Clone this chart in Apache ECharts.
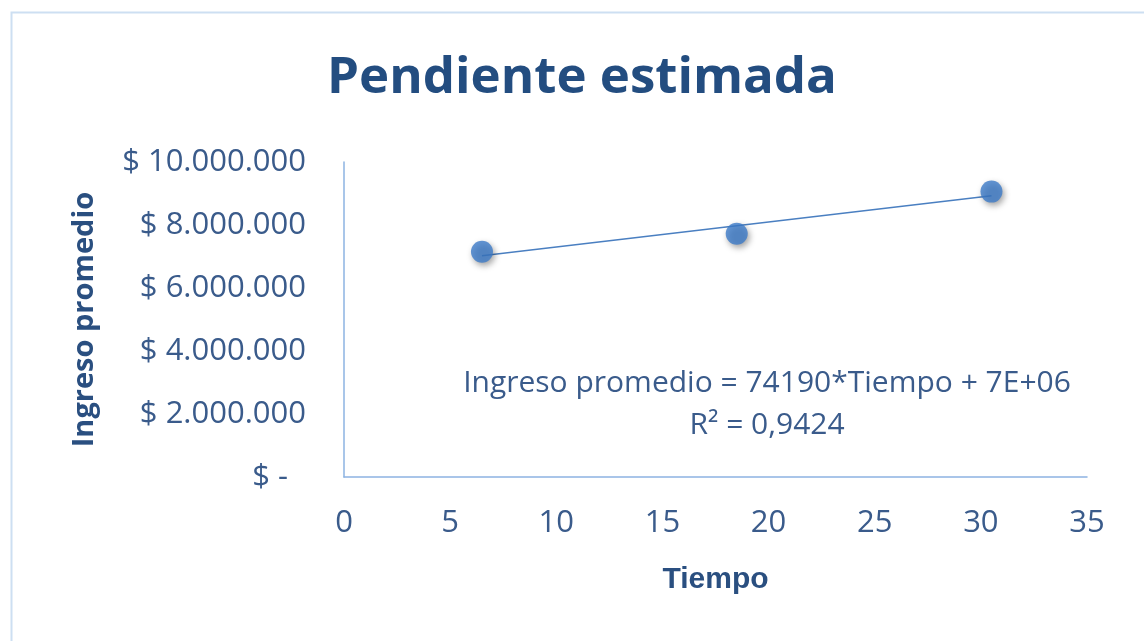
<!DOCTYPE html>
<html>
<head>
<meta charset="utf-8">
<script src="https://cdn.jsdelivr.net/npm/echarts@6/dist/echarts.min.js"></script>
<style>
html,body{margin:0;padding:0;background:#fff;}
#main{width:1144px;height:641px;}
</style>
</head>
<body>
<div id="main"></div>
<script>
const tiempo = [6.5, 18.5, 30.5];
const ingreso = [7150000, 7720000, 9060000];
const xTicks = [0, 5, 10, 15, 20, 25, 30, 35];
const yTicks = [0, 2000000, 4000000, 6000000, 8000000, 10000000];
const titleText = 'Pendiente estimada';
const xTitle = 'Tiempo';
const yTitle = 'Ingreso promedio';
const eqLine1 = 'Ingreso promedio = 74190*Tiempo + 7E+06';
const eqLine2 = 'R² = 0,9424';

// least-squares linear trendline over the data range
const n = tiempo.length;
const mx = tiempo.reduce((a, b) => a + b, 0) / n;
const my = ingreso.reduce((a, b) => a + b, 0) / n;
let sxy = 0, sxx = 0;
for (let i = 0; i < n; i++) { sxy += (tiempo[i] - mx) * (ingreso[i] - my); sxx += (tiempo[i] - mx) ** 2; }
const slope = sxy / sxx, icpt = my - slope * mx;
const xMin = Math.min(...tiempo), xMax = Math.max(...tiempo);
const trend = [[xMin, icpt + slope * xMin], [xMax, icpt + slope * xMax]];

function fmtY(v) {
  if (v === 0) return '{z|$ -}';
  return '$ ' + String(Math.round(v)).replace(/\B(?=(\d{3})+(?!\d))/g, '.');
}

const chart = echarts.init(document.getElementById('main'));
const font = '"Open Sans", sans-serif';
const txt = '#3a5b8b';
chart.setOption({
  animation: false,
  backgroundColor: '#ffffff',
  graphic: [{
    type: 'rect', left: 9, top: 10, silent: true,
    shape: { width: 1300, height: 800 },
    style: { fill: 'none', stroke: '#cddff2', lineWidth: 2 }
  }, {
    type: 'text', x: 767, y: 383, silent: true,
    style: {
      text: eqLine1, align: 'center', verticalAlign: 'middle',
      fontFamily: font, fontSize: 30, fill: txt
    }
  }, {
    type: 'text', x: 767, y: 425, silent: true,
    style: {
      text: eqLine2, align: 'center', verticalAlign: 'middle',
      fontFamily: font, fontSize: 30, fill: txt
    }
  }],
  title: {
    text: titleText, left: 577, top: 48, textAlign: 'center',
    textStyle: { fontFamily: font, fontSize: 51, fontWeight: 'bold', color: '#234d80' }
  },
  grid: { left: 344, right: 57, top: 162, bottom: 164, containLabel: false },
  xAxis: {
    type: 'value', min: 0, max: 35, interval: 5,
    name: xTitle, nameLocation: 'middle', nameGap: 88,
    nameTextStyle: { fontFamily: '"Liberation Sans Narrow", "Liberation Sans", sans-serif', fontSize: 30, fontWeight: 'bold', color: '#2a4f80' },
    axisLine: { show: true, lineStyle: { color: '#8db3e2', width: 1.5 } },
    axisTick: { show: false },
    splitLine: { show: false },
    axisLabel: { margin: 31, fontFamily: font, fontSize: 31, color: txt,
      formatter: v => xTicks.includes(v) ? String(v) : '' }
  },
  yAxis: {
    type: 'value', min: 0, max: 10000000, interval: 2000000,
    name: yTitle, nameLocation: 'middle', nameGap: 245, nameRotate: 90,
    nameTextStyle: { fontFamily: font, fontSize: 29, fontWeight: 'bold', color: '#2a4f80' },
    axisLine: { show: true, lineStyle: { color: '#8db3e2', width: 1.5 } },
    axisTick: { show: false },
    splitLine: { show: false },
    axisLabel: { margin: 38, fontFamily: font, fontSize: 31, color: txt,
      formatter: v => yTicks.includes(v) ? fmtY(v) : '',
      rich: { z: { fontFamily: font, fontSize: 31, color: txt, padding: [0, 18, 0, 0] } } }
  },
  series: [{
    type: 'line', data: trend, symbol: 'none', silent: true,
    lineStyle: { color: '#4a7fc1', width: 1.5 }, z: 2
  }, {
    type: 'scatter', data: tiempo.map((x, i) => [x, ingreso[i]]),
    symbol: 'circle', symbolSize: 22, z: 3,
    itemStyle: { color: '#3c7bc8', shadowBlur: 6, shadowOffsetX: 2, shadowOffsetY: 3, shadowColor: 'rgba(0,0,0,0.45)' }
  }]
});
</script>
</body>
</html>
